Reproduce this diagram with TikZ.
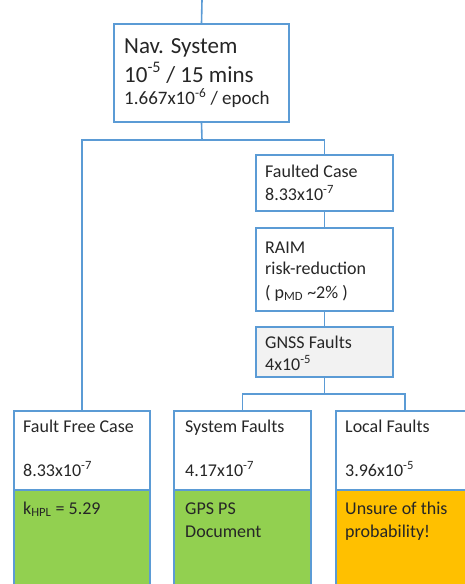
\documentclass[tikz,border=0pt]{standalone}
\usepackage{fontspec}
\setmainfont{Carlito}
\definecolor{boxblue}{HTML}{5B9BD5}
\definecolor{okgreen}{HTML}{92D050}
\definecolor{warnorange}{HTML}{FFC000}
\definecolor{lightgray}{HTML}{F2F2F2}
\definecolor{txt}{HTML}{262626}
\begin{document}
\begin{tikzpicture}[x=1pt,y=-1pt,
  box/.style={draw=boxblue,line width=1.6pt,rectangle,inner sep=0pt},
  conn/.style={draw=boxblue,line width=1.6pt},
  lbl/.style={anchor=base west,inner sep=0pt,text=txt,font=\fontsize{18}{21}\selectfont},
  mid/.style={anchor=base west,inner sep=0pt,text=txt,font=\fontsize{19}{22}\selectfont},
  big/.style={anchor=base west,inner sep=0pt,text=txt,font=\fontsize{23}{27}\selectfont}]
\useasboundingbox (0,0) rectangle (465,584);
% boxes
\node[box,minimum width=175pt,minimum height=98pt] (nav) at (201.5,73) {};
\node[box,minimum width=137pt,minimum height=56pt] (fc) at (324.5,183) {};
\node[box,minimum width=137pt,minimum height=83pt] (raim) at (324.5,269.5) {};
\node[box,fill=lightgray,minimum width=137pt,minimum height=50pt] (gnss) at (324.5,352) {};
\node[box,minimum width=136pt,minimum height=79pt] (ff) at (82,450.5) {};
\node[box,minimum width=137pt,minimum height=79pt] (sys) at (242.5,450.5) {};
\node[box,minimum width=138pt,minimum height=79pt] (loc) at (405,450.5) {};
\node[box,fill=okgreen,minimum width=136pt,minimum height=110pt] (ffg) at (82,545) {};
\node[box,fill=okgreen,minimum width=137pt,minimum height=110pt] (sysg) at (242.5,545) {};
\node[box,fill=warnorange,minimum width=138pt,minimum height=110pt] (locg) at (405,545) {};
% connectors
\coordinate (top) at (202,0);
\coordinate (busA) at (202,140);
\coordinate (busB) at (324.5,394);
\draw[conn] (top) -- (nav.north);
\draw[conn] (nav.south) -- (busA);
\draw[conn] (ff.north) |- (busA) -| (fc.north);
\draw[conn] (fc.south) -- (raim.north);
\draw[conn] (raim.south) -- (gnss.north);
\draw[conn] (gnss.south) -- (busB);
\draw[conn] (sys.north) |- (busB) -| (loc.north);
% texts
\node[big] (t1) at (124,53) {Nav. System};
\node[big] (t2) at (124,82) {10\textsuperscript{-5} / 15 mins};
\node[mid] (t3) at (124,104) {1.667x10\textsuperscript{-6} / epoch};
\node[lbl] (t4) at (265,177) {Faulted Case};
\node[lbl] (t5) at (265,200) {8.33x10\textsuperscript{-7}};
\node[lbl] (t6) at (265,253) {RAIM};
\node[lbl] (t7) at (265,274) {risk-reduction};
\node[lbl] (t8) at (265,298) {( p\textsubscript{MD} \textasciitilde2\% )};
\node[lbl] (t9) at (265,348) {GNSS Faults};
\node[lbl] (t10) at (265,370) {4x10\textsuperscript{-5}};
\node[lbl] (t11) at (23,432) {Fault Free Case};
\node[lbl] (t12) at (23,476) {8.33x10\textsuperscript{-7}};
\node[lbl] (t13) at (23,514) {k\textsubscript{HPL} = 5.29};
\node[lbl] (t14) at (185,432) {System Faults};
\node[lbl] (t15) at (185,476) {4.17x10\textsuperscript{-7}};
\node[lbl] (t16) at (185,514) {GPS PS};
\node[lbl] (t17) at (185,537) {Document};
\node[lbl] (t18) at (345,432) {Local Faults};
\node[lbl] (t19) at (345,476) {3.96x10\textsuperscript{-5}};
\node[lbl] (t20) at (345,514) {Unsure of this};
\node[lbl] (t21) at (345,537) {probability!};
\end{tikzpicture}
\end{document}
